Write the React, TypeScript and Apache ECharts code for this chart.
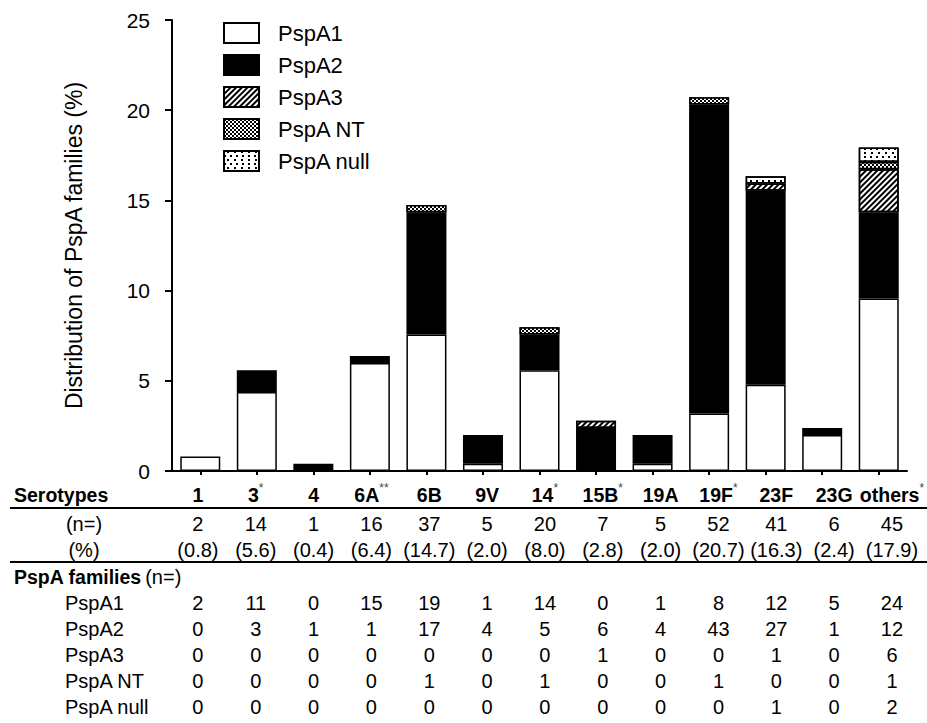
import React, { useEffect, useRef } from "react";
import * as echarts from "echarts";

const FONT = "Liberation Sans, Arial, sans-serif";

const serotypes = ["1", "3", "4", "6A", "6B", "9V", "14", "15B", "19A", "19F", "23F", "23G", "others"];
const serotypeMarks = ["", "*", "", "**", "", "", "*", "*", "", "*", "", "", "*"];
const totalN = [2, 14, 1, 16, 37, 5, 20, 7, 5, 52, 41, 6, 45];
const totalPct = ["0.8", "5.6", "0.4", "6.4", "14.7", "2.0", "8.0", "2.8", "2.0", "20.7", "16.3", "2.4", "17.9"];

const familyNames = ["PspA1", "PspA2", "PspA3", "PspA NT", "PspA null"];
const pspA1N = [2, 11, 0, 15, 19, 1, 14, 0, 1, 8, 12, 5, 24];
const pspA2N = [0, 3, 1, 1, 17, 4, 5, 6, 4, 43, 27, 1, 12];
const pspA3N = [0, 0, 0, 0, 0, 0, 0, 1, 0, 0, 1, 0, 6];
const pspANTN = [0, 0, 0, 0, 1, 0, 1, 0, 0, 1, 0, 0, 1];
const pspANullN = [0, 0, 0, 0, 0, 0, 0, 0, 0, 0, 1, 0, 2];

// bar heights (% of all 251 isolates)
const pspA1Pct = [0.8, 4.38, 0, 5.98, 7.57, 0.4, 5.58, 0, 0.4, 3.19, 4.78, 1.99, 9.56];
const pspA2Pct = [0, 1.2, 0.4, 0.4, 6.77, 1.59, 1.99, 2.39, 1.59, 17.13, 10.76, 0.4, 4.78];
const pspA3Pct = [0, 0, 0, 0, 0, 0, 0, 0.4, 0, 0, 0.4, 0, 2.39];
const pspANTPct = [0, 0, 0, 0, 0.4, 0, 0.4, 0, 0, 0.4, 0, 0, 0.4];
const pspANullPct = [0, 0, 0, 0, 0, 0, 0, 0, 0, 0, 0.4, 0, 0.8];

const yTicks = { min: 0, max: 25, interval: 5 };

const countRows = [pspA1N, pspA2N, pspA3N, pspANTN, pspANullN];
const pctRows = [pspA1Pct, pspA2Pct, pspA3Pct, pspANTPct, pspANullPct];

const styles: any[] = [
  { color: "#ffffff" },
  { color: "#000000" },
  {
    color: "#ffffff",
    decal: {
      symbol: "rect",
      symbolSize: 1,
      color: "#000000",
      dashArrayX: [1, 0],
      dashArrayY: [2, 2],
      rotation: -Math.PI / 4,
    },
  },
  {
    color: "#000000",
    decal: {
      symbol: "rect",
      symbolSize: 1,
      color: "#ffffff",
      dashArrayX: [
        [1.5, 1.5],
        [0, 1.5, 1.5, 0],
      ],
      dashArrayY: [1.5, 0],
      rotation: 0,
    },
  },
  {
    color: "#ffffff",
    decal: {
      symbol: "rect",
      symbolSize: 1,
      color: "#000000",
      dashArrayX: [
        [1.2, 3.8],
        [0, 2.5, 1.2, 1.3],
      ],
      dashArrayY: [1.2, 1.3],
      rotation: 0,
    },
  },
];

export default function App() {
  const ref = useRef<HTMLDivElement>(null);

  useEffect(() => {
    if (!ref.current) return;
    const chart = echarts.init(ref.current, null, { renderer: "svg" });

    const series = familyNames.map((name, k) => ({
      name,
      type: "bar",
      stack: "total",
      xAxisIndex: 0,
      yAxisIndex: 0,
      barWidth: 40,
      data: pctRows[k].map((v) => (v === 0 ? "-" : v)),
      itemStyle: {
        ...styles[k],
        borderColor: "#000",
        borderWidth: 1.5,
      },
    }));

    const tableFormatter = (_v: string, i: number) => {
      const lines: string[] = [];
      lines.push(`{b|${serotypes[i]}}` + (serotypeMarks[i] ? `{s|${serotypeMarks[i]}}` : ""));
      lines.push(`{n|${totalN[i]}}`);
      lines.push(`{p|(${totalPct[i]})}`);
      lines.push(`{g| }`);
      countRows.forEach((row) => lines.push(`{c|${row[i]}}`));
      return lines.join("\n");
    };

    const baseText = { fontFamily: FONT, fontSize: 20, color: "#000" };

    const leftLabels: any[] = [
      { text: "Serotypes", x: 14, y: 495, align: "left", bold: true },
      { text: "(n=)", x: 84, y: 524, align: "center" },
      { text: "(%)", x: 84, y: 550, align: "center" },
      ...familyNames.map((t, k) => ({ text: t, x: 65, y: 603 + 26 * k, align: "left" })),
    ];

    const graphic: any[] = [
      ...leftLabels.map((l) => ({
        type: "text",
        x: l.x,
        y: l.y,
        style: {
          text: l.text,
          fill: "#000",
          fontFamily: FONT,
          fontSize: l.bold ? 19.5 : 20,
          fontWeight: l.bold ? "bold" : "normal",
          align: l.align,
          verticalAlign: "middle",
        },
      })),
      {
        type: "text",
        x: 14,
        y: 577,
        style: {
          text: "{b|PspA families} {n|(n=)}",
          fill: "#000",
          align: "left",
          verticalAlign: "middle",
          rich: {
            b: { fontFamily: FONT, fontSize: 19.5, fontWeight: "bold", fill: "#000" },
            n: { fontFamily: FONT, fontSize: 20, fill: "#000" },
          },
        },
      },
      {
        type: "line",
        shape: { x1: 10, y1: 508, x2: 927, y2: 508 },
        style: { stroke: "#000", lineWidth: 2 },
      },
      {
        type: "line",
        shape: { x1: 10, y1: 562, x2: 927, y2: 562 },
        style: { stroke: "#000", lineWidth: 2 },
      },
    ];

    chart.setOption({
      animation: false,
      backgroundColor: "#fff",
      textStyle: { fontFamily: FONT },
      legend: {
        orient: "vertical",
        left: 218,
        top: 17,
        itemWidth: 35,
        itemHeight: 20,
        itemGap: 10,
        icon: "rect",
        selectedMode: false,
        data: familyNames,
        textStyle: {
          fontFamily: FONT,
          fontSize: 22,
          color: "#000",
          padding: [0, 0, 0, 14],
          lineHeight: 20,
        },
        itemStyle: { borderColor: "#000", borderWidth: 2 },
      },
      grid: [
        { left: 172, right: 20, top: 20, bottom: 252 },
        { left: 169, right: 4, top: 20, bottom: 252 },
      ],
      xAxis: [
        {
          type: "category",
          gridIndex: 0,
          data: serotypes,
          axisLine: { show: true, lineStyle: { color: "#000", width: 2 } },
          axisTick: { show: true, alignWithLabel: true, length: 4, lineStyle: { color: "#000", width: 2 } },
          axisLabel: { show: false },
        },
        {
          type: "category",
          gridIndex: 1,
          data: serotypes,
          position: "bottom",
          axisLine: { show: false },
          axisTick: { show: false },
          axisLabel: {
            show: true,
            interval: 0,
            margin: 11,
            formatter: tableFormatter,
            rich: {
              b: { ...baseText, fontSize: 19.5, fontWeight: "bold", lineHeight: 26 },
              s: { ...baseText, fontSize: 12, verticalAlign: "top", lineHeight: 22, color: "#444" },
              n: { ...baseText, lineHeight: 32 },
              p: { ...baseText, lineHeight: 20 },
              g: { ...baseText, lineHeight: 30 },
              c: { ...baseText, lineHeight: 26 },
            },
          },
        },
      ],
      yAxis: [
        {
          type: "value",
          gridIndex: 0,
          min: yTicks.min,
          max: yTicks.max,
          interval: yTicks.interval,
          name: "Distribution of PspA families (%)",
          nameLocation: "middle",
          nameGap: 87,
          nameTextStyle: { fontFamily: FONT, fontSize: 23, color: "#000" },
          axisLine: { show: true, lineStyle: { color: "#000", width: 2 } },
          axisTick: { show: true, inside: false, length: 7, lineStyle: { color: "#000", width: 2 } },
          axisLabel: { fontFamily: FONT, fontSize: 21, color: "#000", margin: 22 },
          splitLine: { show: false },
        },
        {
          type: "value",
          gridIndex: 1,
          show: false,
        },
      ],
      series,
      graphic,
    });

    return () => chart.dispose();
  }, []);

  return (
    <div
      ref={ref}
      style={{ position: "fixed", left: 0, top: 0, width: 927, height: 723, background: "#fff" }}
    />
  );
}
